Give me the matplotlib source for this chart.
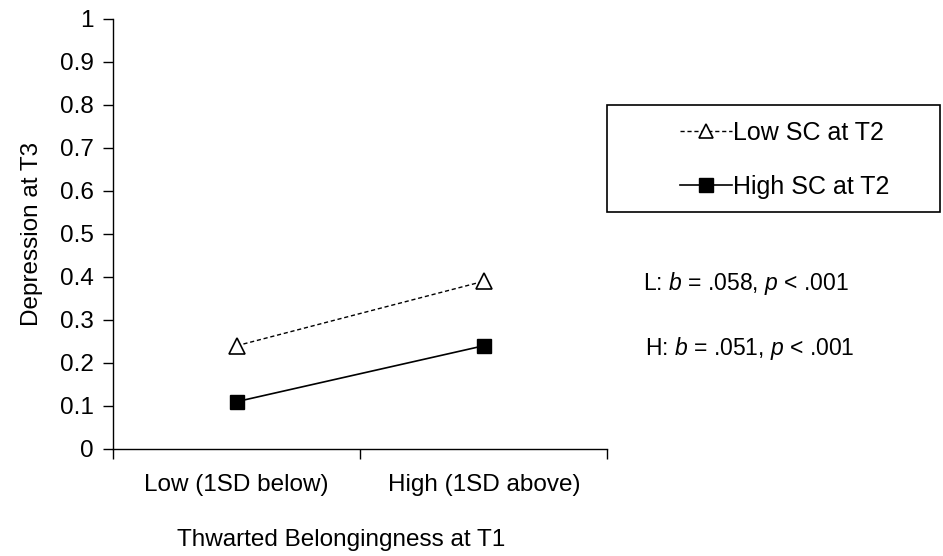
import matplotlib.pyplot as plt
from matplotlib.patches import Rectangle

plt.rcParams['font.family'] = 'Liberation Sans'
plt.rcParams['mathtext.fontset'] = 'custom'
plt.rcParams['mathtext.rm'] = 'Liberation Sans'
plt.rcParams['mathtext.it'] = 'Liberation Sans:italic'

categories = ["Low (1SD below)", "High (1SD above)"]
low_sc = [0.24, 0.39]
high_sc = [0.11, 0.24]
yticks = [0, 0.1, 0.2, 0.3, 0.4, 0.5, 0.6, 0.7, 0.8, 0.9, 1]
ytick_labels = ["0", "0.1", "0.2", "0.3", "0.4", "0.5", "0.6", "0.7", "0.8", "0.9", "1"]

fig = plt.figure(figsize=(9.43, 5.56), dpi=100)
ax = fig.add_axes([0.12, 0.1925, 0.524, 0.7735])

xpos = [0.5, 1.5]
l1, = ax.plot(xpos, low_sc, color='black', linestyle=(0, (3, 2)), linewidth=1,
              marker='^', markersize=11, markerfacecolor='white', markeredgecolor='black',
              markeredgewidth=1.2, label="Low SC at T2")
l2, = ax.plot(xpos, high_sc, color='black', linestyle='-', linewidth=1.2,
              marker='s', markersize=10.5, markerfacecolor='black', markeredgecolor='black',
              label="High SC at T2")

ax.set_xlim(0, 2)
ax.set_ylim(0, 1)
ax.set_yticks(yticks)
ax.set_yticklabels(ytick_labels, fontsize=17.5)
ax.set_xticks([0, 1, 2])
ax.set_xticklabels([])
ax.set_xticks(xpos, minor=True)
ax.set_xticklabels(categories, minor=True, fontsize=17.5)
ax.tick_params(axis='x', which='minor', length=0, pad=18)
ax.tick_params(axis='x', which='major', length=7, width=1, direction='out')
ax.tick_params(axis='y', length=7, width=1, direction='out', pad=7)

for s in ['top', 'right']:
    ax.spines[s].set_visible(False)
for s in ['left', 'bottom']:
    ax.spines[s].set_linewidth(1)

ax.set_ylabel("Depression at T3", fontsize=17.5, labelpad=12)
fig.text(0.362, 0.028, "Thwarted Belongingness at T1", fontsize=17.5, ha='center', va='center')

# legend box
fig.patches.append(Rectangle((0.644, 0.619), 0.353, 0.192, transform=fig.transFigure,
                             fill=False, edgecolor='black', linewidth=1.2))
fig.legend(handles=[l1, l2], loc='center', bbox_to_anchor=(0.832, 0.713), frameon=False,
           fontsize=18, handlelength=2.1, handletextpad=0.05, labelspacing=1.2,
           markerscale=0.9)

fig.text(0.682, 0.49, r"L: $b$ = .058, $p$ < .001", fontsize=16.5, va='center')
fig.text(0.684, 0.373, r"H: $b$ = .051, $p$ < .001", fontsize=16.5, va='center')

fig.savefig("out.png", dpi=100)
